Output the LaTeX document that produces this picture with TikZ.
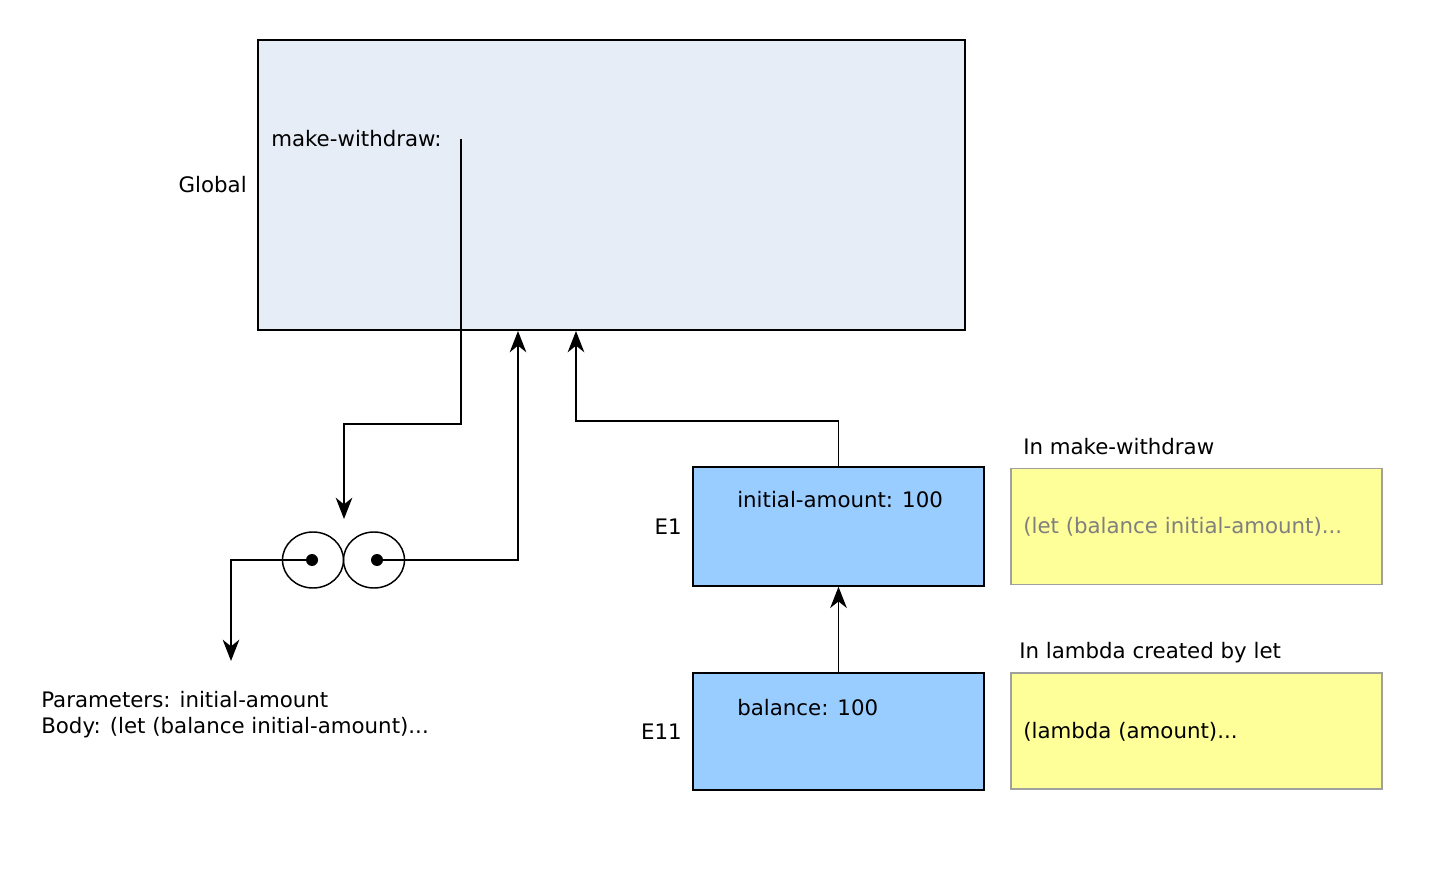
\documentclass[tikz,border=0pt]{standalone}
\usepackage{fontspec}
\setmainfont{DejaVu Sans}
\usetikzlibrary{shapes.geometric,arrows.meta}
\definecolor{globfill}{HTML}{E6EDF7}
\definecolor{envfill}{HTML}{99CCFF}
\definecolor{notefill}{HTML}{FFFF99}
\definecolor{notedraw}{HTML}{A0A0A0}
\definecolor{graytext}{HTML}{7F7F7F}
\def\u{0.75pt}
\tikzset{
  box/.style={draw=black, line width=1.1pt, inner sep=0pt},
  envbox/.style={box, fill=envfill, minimum width=291*\u, minimum height=119*\u},
  notebox/.style={draw=notedraw, line width=1.1pt, fill=notefill, minimum width=371*\u, minimum height=116*\u, inner sep=0pt},
  lbl/.style={font=\fontsize{16}{19.5}\selectfont, inner sep=0pt},
  arr/.style={line width=1.1pt, -{Stealth[length=16pt,width=12.5pt,inset=5pt]}},
  ell/.style={ellipse, draw=black, line width=1.1pt, minimum width=61*\u, minimum height=56*\u, inner sep=0pt},
  dot/.style={circle, fill=black, minimum size=12*\u, inner sep=0pt}
}
\begin{document}
\begin{tikzpicture}[x=0.75pt, y=-0.75pt]
\useasboundingbox (0,0) rectangle (1440,877);
% Global frame
\node[box, fill=globfill, minimum width=707*\u, minimum height=290*\u] (glob) at (611.5,185) {};
\node[lbl, anchor=east] (globlbl) at (247,185) {Global};
\node[lbl, anchor=west] (mw) at (271,139) {make-withdraw:};
\coordinate (mwp) at (461,139);
\coordinate (t1) at (344,519);
\coordinate (g2) at (518,331);
\coordinate (g3) at (576,331);
\coordinate (t2) at (231,661);
% procedure object
\node[ell] (c1) at (313,560) {};
\node[ell] (c2) at (374,560) {};
\node[dot] (d1) at (312,560) {};
\node[dot] (d2) at (377,560) {};
\node[lbl, anchor=west, align=left] (params) at (41,715) {Parameters: initial-amount\\Body: (let (balance initial-amount)...};
% environments
\node[envbox] (e1) at (838.5,526.5) {};
\node[envbox, minimum height=117*\u] (e11) at (838.5,731.5) {};
\node[lbl, anchor=west] (e1txt) at (737,500) {initial-amount: 100};
\node[lbl, anchor=west] (e11txt) at (737,708) {balance: 100};
\node[lbl, anchor=east] (e1lbl) at (682,527) {E1};
\node[lbl, anchor=east] (e11lbl) at (682,732) {E11};
% notes
\node[notebox] (n1) at (1196.5,526.5) {};
\node[notebox] (n2) at (1196.5,731) {};
\node[lbl, anchor=west] (n1title) at (1023,447) {In make-withdraw};
\node[lbl, anchor=west] (n2title) at (1019,653) {In lambda created by let};
\node[lbl, anchor=west, text=graytext] (n1txt) at (1023,527) {(let (balance initial-amount)...};
\node[lbl, anchor=west] (n2txt) at (1023,732) {(lambda (amount)...};
% connectors
\draw[arr] (mwp) |- (344,424) -- (t1);
\draw[arr] (d2.center) -| (g2);
\draw[arr] (d1.center) -| (t2);
\draw[arr] (e1.north) |- (576,421) -- (g3);
\draw[arr] (e11.north) -- (e1.south);
\end{tikzpicture}
\end{document}
